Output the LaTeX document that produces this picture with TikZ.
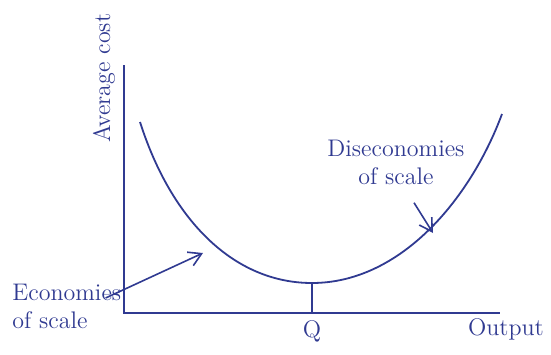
\documentclass[tikz,border=0pt]{standalone}
\usetikzlibrary{arrows.meta, positioning, calc}

\definecolor{ink}{RGB}{48,58,145}

\begin{document}
\begin{tikzpicture}[
    x=0.5pt, y=-0.5pt,
    every node/.style={font=\large, text=ink},
    axis/.style={draw=ink, line width=0.9pt},
    curve/.style={draw=ink, line width=0.9pt},
    label/.style={align=left, inner sep=1pt},
    arrow/.style={-{Straight Barb[length=2.2mm, width=2.6mm]}, draw=ink, line width=0.8pt}
]
\useasboundingbox (0,0) rectangle (551,354);

% Axes
\coordinate (origin) at (124,313);
\coordinate (ytop) at (124,65);
\coordinate (xend) at (500,313);
\draw[axis] (ytop) -- (origin) -- (xend);

% Axis labels
\node[rotate=90] (avg) at (104,78) {Average cost};
\node (output) at (506,329) {Output};

% Long run average cost curve
\coordinate (lstart) at (140,122);
\coordinate (lmin) at (312,283);
\coordinate (lend) at (502,114);
\draw[curve] (lstart) .. controls (172,222) and (235,283) .. (lmin)
    .. controls (400,283) and (470,200) .. (lend);

% Q marker
\coordinate (qfoot) at (312,313);
\draw[axis] (lmin) -- (qfoot);
\node (q) at (312,331) {Q};

% Economies of scale
\node[label, anchor=west] (econ) at (10,306) {Economies\\of scale};
\coordinate (econtip) at (203,253);
\draw[arrow] ([xshift=-9pt,yshift=4pt]econ.east) -- (econtip);

% Diseconomies of scale
\node[label, align=center] (dis) at (396,162) {Diseconomies\\of scale};
\coordinate (distip) at (433,233);
\draw[arrow] ([xshift=9pt,yshift=-8pt]dis.south) -- (distip);

\end{tikzpicture}
\end{document}
